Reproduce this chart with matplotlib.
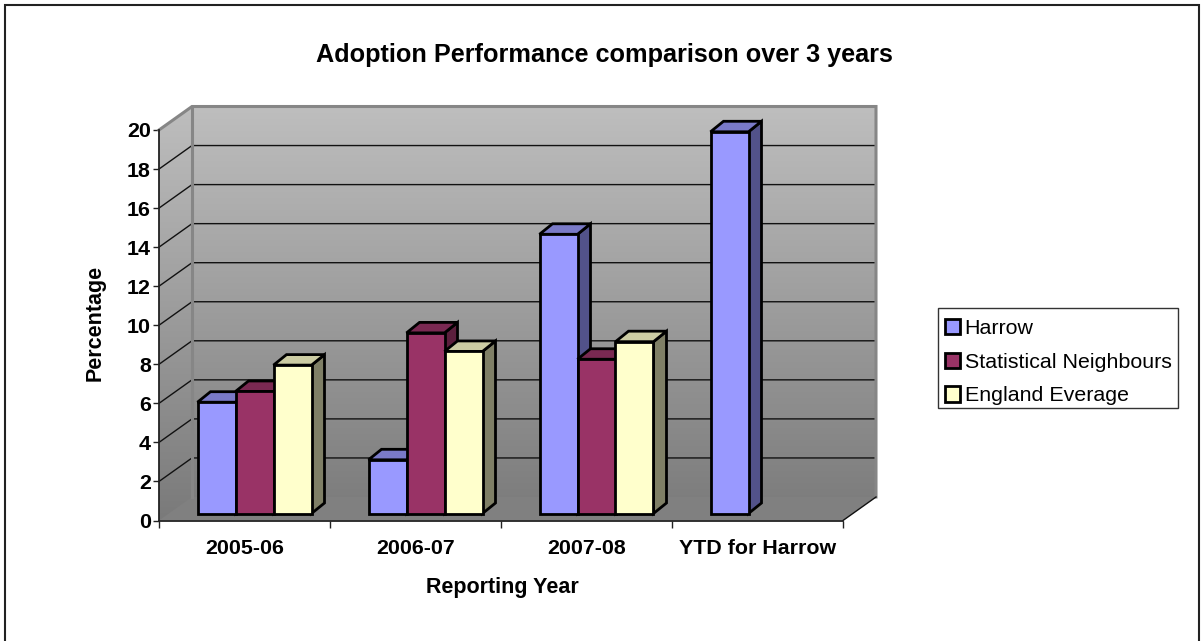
import matplotlib
matplotlib.use('Agg')
import matplotlib.pyplot as plt
import numpy as np
from matplotlib.patches import Polygon, Rectangle, Patch

plt.rcParams['font.family'] = ['Liberation Sans', 'DejaVu Sans']

categories = ['2005-06', '2006-07', '2007-08', 'YTD for Harrow']
harrow = [5.7, 2.75, 14.3, 19.55]
neighbours = [6.25, 9.25, 7.9, None]
england = [7.6, 8.3, 8.8, None]
series_names = ['Harrow', 'Statistical Neighbours', 'England Everage']
colors = ['#9999FF', '#993366', '#FFFFCC']
side_colors = ['#52528A', '#5C1F3D', '#7F7F66']
top_colors = ['#7A7AC8', '#7A2952', '#CCCCA3']
yticks = list(range(0, 21, 2))

W, H = 1202, 641
fig = plt.figure(figsize=(W / 100, H / 100), dpi=100)
fig.patch.set_facecolor('white')
# outer frame, bottom edge runs off the picture
fig.add_artist(Rectangle((5 / W, 1 - 650 / H), 1194 / W, 645 / H, fill=False,
                         ec='#222222', lw=1.5, transform=fig.transFigure))

# front plane of the 3d box, the walls are pushed back from it
left, right, top, bottom = 159, 843, 130, 520.5
ax = fig.add_axes([left / W, 1 - bottom / H, (right - left) / W, (bottom - top) / H])
ax.set_xlim(0, 4)
ax.set_ylim(0, 20)
ax.patch.set_alpha(0)
for s in ['top', 'right']:
    ax.spines[s].set_visible(False)
for s in ['left', 'bottom']:
    ax.spines[s].set_linewidth(1.3)
    ax.spines[s].set_color('#222222')

pxx = 4 / (right - left)
pxy = 20 / (bottom - top)
wall_dx, wall_dy = 33 * pxx, 23.5 * pxy
bar_x0, bar_y0 = 10 * pxx, 7 * pxy
bar_dx, bar_dy = 13 * pxx, 10.5 * pxy
bar_w = 1 / 4.5

# walls
grad = np.linspace(0, 1, 256).reshape(-1, 1)
extent = (0, 4 + wall_dx, 0, 20 + wall_dy)
cmap = matplotlib.colors.LinearSegmentedColormap.from_list('w', ['#BEBEBE', '#7A7A7A'])
im = ax.imshow(grad, cmap=cmap, extent=extent, aspect='auto', zorder=0, origin='upper')
outline = Polygon([(0, 0), (0, 20), (wall_dx, 20 + wall_dy), (4 + wall_dx, 20 + wall_dy),
                   (4 + wall_dx, wall_dy), (4, 0)], closed=True, transform=ax.transData, fc='none', ec='none')
ax.add_patch(outline)
im.set_clip_box(fig.bbox)
im.set_clip_path(outline)
ax.set_xlim(0, 4)
ax.set_ylim(0, 20)
floor = Polygon([(0, 0), (wall_dx, wall_dy), (4 + wall_dx, wall_dy), (4, 0)], closed=True,
                fc='#808080', ec='none', zorder=1, clip_on=False)
ax.add_patch(floor)

for v in yticks[1:-1]:
    ax.plot([0, wall_dx, 4 + wall_dx], [v, v + wall_dy, v + wall_dy], color='#111111', lw=1,
            zorder=2, clip_on=False)
ax.plot([0, wall_dx, 4 + wall_dx, 4 + wall_dx], [20, 20 + wall_dy, 20 + wall_dy, wall_dy],
        color='#868686', lw=2.2, zorder=2, clip_on=False, solid_joinstyle='miter')
ax.plot([wall_dx, wall_dx], [20 + wall_dy, wall_dy], color='#868686', lw=2.2, zorder=2, clip_on=False)
ax.plot([4, 4 + wall_dx], [0, wall_dy], color='#111111', lw=1, zorder=2, clip_on=False)

# bars, left to right so the next one covers the side of the last
all_series = [harrow, neighbours, england]
for c, cat in enumerate(categories):
    for i, vals in enumerate(all_series):
        v = vals[c]
        if v is None:
            continue
        x0 = c + 1 / 6 + i * bar_w + bar_x0
        x1 = x0 + bar_w
        y0 = bar_y0
        y1 = y0 + v
        z = 3 + i * 0.1
        ax.add_patch(Polygon([(x1, y0), (x1 + bar_dx, y0 + bar_dy), (x1 + bar_dx, y1 + bar_dy), (x1, y1)],
                             closed=True, fc=side_colors[i], ec='black', lw=2, zorder=z, clip_on=False))
        ax.add_patch(Polygon([(x0, y1), (x0 + bar_dx, y1 + bar_dy), (x1 + bar_dx, y1 + bar_dy), (x1, y1)],
                             closed=True, fc=top_colors[i], ec='black', lw=2, zorder=z, clip_on=False))
        ax.add_patch(Rectangle((x0, y0), bar_w, v, fc=colors[i], ec='black', lw=2, zorder=z + 0.05,
                               clip_on=False))

ax.set_yticks(yticks)
ax.set_xticks(range(5))
ax.set_xticklabels([])
ax.tick_params(axis='x', length=5, width=1, color='#222222')
ax.tick_params(axis='y', length=4.3, width=1, color='#222222', pad=1.5)
for lab in ax.get_yticklabels():
    lab.set_fontsize(15.4)
    lab.set_fontweight('bold')
for c, cat in enumerate(categories):
    ax.text(c + 0.5, -1.45, cat, ha='center', va='center', fontsize=15.4, fontweight='bold')

fig.text(604 / W, 1 - 55 / H, 'Adoption Performance comparison over 3 years', ha='center', va='center',
         fontsize=18.2, fontweight='bold')
fig.text(502 / W, 1 - 587 / H, 'Reporting Year', ha='center', va='center', fontsize=15.5, fontweight='bold')
fig.text(95 / W, 1 - 323 / H, 'Percentage', ha='center', va='center', rotation=90, fontsize=15.5,
         fontweight='bold')

# legend box drawn apart so the rows can sit where they do in the source
fig.add_artist(Rectangle((938 / W, 1 - 408 / H), 240 / W, 100 / H, fc='white', ec='#333333', lw=1,
                         transform=fig.transFigure))
handles = [Patch(fc=col, ec='black', lw=2) for col in colors]
leg = fig.legend(handles, series_names, loc='upper left', bbox_to_anchor=(945 / W, 1 - 319 / H),
                 borderaxespad=0, fontsize=15.4, frameon=False, handlelength=0.72, handleheight=0.72,
                 handletextpad=0.2, labelspacing=0.68, borderpad=0)

fig.savefig('out.png', dpi=100)
